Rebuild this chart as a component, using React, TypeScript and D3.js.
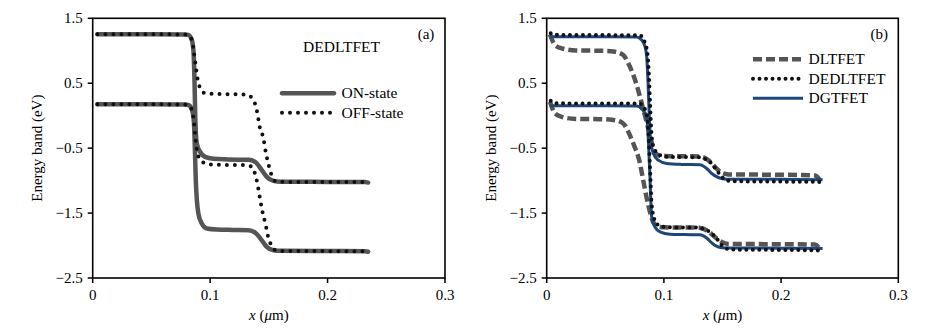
import React from "react";
import * as d3 from "d3";

type Pt = [number, number];

// ---------- Data ----------
const xTicks = [0, 0.1, 0.2, 0.3];
const yTicks = [1.5, 0.5, -0.5, -1.5, -2.5];

// Panel (a): DEDLTFET ON / OFF states
const onCB: Pt[] = [[0.004,1.253],[0.04,1.253],[0.078,1.252],[0.0815,1.245],[0.0844,1.165],[0.0858,1.0],[0.0866,0.6],[0.0872,0.1],[0.0878,-0.25],[0.0887,-0.43],[0.0915,-0.557],[0.0957,-0.634],[0.1028,-0.664],[0.115,-0.674],[0.1326,-0.68],[0.1383,-0.711],[0.144,-0.839],[0.1482,-0.942],[0.1539,-1.004],[0.16,-1.018],[0.2,-1.02],[0.232,-1.022],[0.2345,-1.03]];
const onVB: Pt[] = [[0.004,0.176],[0.04,0.175],[0.078,0.173],[0.0815,0.165],[0.0844,0.097],[0.0862,-0.1],[0.087,-0.5],[0.0878,-1.0],[0.0887,-1.3],[0.09,-1.507],[0.0929,-1.661],[0.0972,-1.738],[0.1057,-1.754],[0.12,-1.76],[0.1326,-1.765],[0.1383,-1.8],[0.144,-1.919],[0.1482,-2.022],[0.1539,-2.073],[0.16,-2.082],[0.2,-2.085],[0.232,-2.087],[0.2345,-2.095]];
const offCB: Pt[] = [[0.004,1.253],[0.04,1.253],[0.078,1.252],[0.0815,1.24],[0.0844,1.17],[0.086,1.0],[0.0875,0.8],[0.089,0.6],[0.0915,0.42],[0.094,0.36],[0.097,0.34],[0.11,0.333],[0.1312,0.325],[0.1369,0.24],[0.1397,0.086],[0.1425,-0.196],[0.1454,-0.35],[0.1468,-0.505],[0.1482,-0.634],[0.151,-0.839],[0.1539,-0.985],[0.157,-1.015],[0.17,-1.02],[0.2,-1.02],[0.234,-1.022]];
const offVB: Pt[] = [[0.004,0.176],[0.04,0.175],[0.078,0.173],[0.0815,0.16],[0.0844,0.09],[0.0862,-0.1],[0.0875,-0.35],[0.089,-0.56],[0.0909,-0.659],[0.094,-0.72],[0.097,-0.747],[0.11,-0.757],[0.131,-0.762],[0.1355,-0.79],[0.1383,-0.9],[0.1403,-1.05],[0.1425,-1.28],[0.144,-1.43],[0.1454,-1.55],[0.1468,-1.64],[0.1482,-1.76],[0.1496,-1.88],[0.151,-1.95],[0.1539,-2.05],[0.157,-2.08],[0.17,-2.085],[0.2,-2.086],[0.234,-2.09]];

// Panel (b): comparison of devices
const dltCB: Pt[] = [[0.0028,1.25],[0.0071,1.088],[0.0128,1.037],[0.025,1.005],[0.045,1.0],[0.0568,0.99],[0.0653,0.934],[0.0696,0.806],[0.0739,0.626],[0.0768,0.471],[0.0796,0.291],[0.0824,0.1],[0.0853,-0.1],[0.0881,-0.3],[0.0909,-0.5],[0.093,-0.58],[0.097,-0.62],[0.11,-0.625],[0.13,-0.628],[0.1378,-0.685],[0.1435,-0.788],[0.1493,-0.881],[0.155,-0.905],[0.2,-0.91],[0.229,-0.92],[0.2335,-1.0]];
const dltVB: Pt[] = [[0.0028,0.214],[0.0071,0.035],[0.0128,-0.017],[0.025,-0.05],[0.045,-0.053],[0.0568,-0.065],[0.0653,-0.12],[0.0696,-0.249],[0.0739,-0.428],[0.0796,-0.736],[0.0824,-1.0],[0.0867,-1.38],[0.0909,-1.64],[0.095,-1.71],[0.1,-1.72],[0.13,-1.725],[0.1378,-1.78],[0.1435,-1.868],[0.1493,-1.945],[0.155,-1.975],[0.2,-1.98],[0.229,-1.985],[0.2335,-2.07]];
const dedCB: Pt[] = [[0.0034,1.27],[0.008,1.245],[0.04,1.242],[0.0794,1.238],[0.0853,1.037],[0.087,0.7],[0.0882,0.2],[0.0893,-0.25],[0.091,-0.48],[0.0967,-0.608],[0.105,-0.635],[0.13,-0.64],[0.1345,-0.66],[0.1393,-0.711],[0.145,-0.839],[0.1493,-0.942],[0.154,-1.0],[0.16,-1.01],[0.2,-1.015],[0.232,-1.02],[0.235,-1.045]];
const dedVB: Pt[] = [[0.0034,0.23],[0.008,0.19],[0.04,0.189],[0.0794,0.185],[0.085,0.05],[0.0872,-0.4],[0.0885,-0.95],[0.0895,-1.35],[0.092,-1.6],[0.0967,-1.7],[0.105,-1.72],[0.13,-1.725],[0.1345,-1.75],[0.1393,-1.79],[0.145,-1.892],[0.1493,-1.995],[0.154,-2.05],[0.16,-2.062],[0.2,-2.068],[0.232,-2.075],[0.235,-2.09]];
const dgCB: Pt[] = [[0.003,1.216],[0.04,1.216],[0.0768,1.212],[0.081,1.165],[0.0839,1.062],[0.0853,0.908],[0.0865,0.5],[0.0875,0.0],[0.0885,-0.35],[0.091,-0.582],[0.0952,-0.685],[0.1024,-0.736],[0.115,-0.75],[0.1308,-0.755],[0.1365,-0.813],[0.1408,-0.89],[0.1464,-0.952],[0.1536,-0.978],[0.2,-0.98],[0.2354,-0.985]];
const dgVB: Pt[] = [[0.003,0.152],[0.04,0.152],[0.0768,0.148],[0.081,0.105],[0.0853,-0.017],[0.0868,-0.4],[0.088,-0.9],[0.0888,-1.3],[0.0896,-1.559],[0.0924,-1.714],[0.0967,-1.79],[0.1052,-1.826],[0.118,-1.831],[0.1308,-1.835],[0.1365,-1.883],[0.1408,-1.96],[0.1464,-2.022],[0.1536,-2.037],[0.2,-2.04],[0.2354,-2.047]];

const legendA = ["ON-state", "OFF-state"];
const legendB = ["DLTFET", "DEDLTFET", "DGTFET"];

// ---------- Styles ----------
const FONT = "'Liberation Serif', 'Times New Roman', serif";
const GRAY = "#555555";
const BLUE = "#1f4679";

const styleOn = { stroke: GRAY, width: 4.5, dash: "none", cap: "round" as const };
const styleOff = { stroke: "#111", width: 4, dash: "0 8", cap: "round" as const };
const styleDlt = { stroke: GRAY, width: 4.5, dash: "9 4", cap: "butt" as const };
const styleDed = { stroke: "#111", width: 4, dash: "0 6.5", cap: "round" as const };
const styleDg = { stroke: BLUE, width: 3, dash: "none", cap: "butt" as const };

const fmt = (v: number) => (v === 0 ? "0" : d3.format(".1f")(v).replace("-", "\u2212"));

type Series = { data: Pt[]; style: typeof styleOn };

function Panel({ x0, x1, series, label, ylabX }: { x0: number; x1: number; series: Series[]; label: string; ylabX: number }) {
  const top = 18.3, bottom = 278;
  const xs = d3.scaleLinear().domain([0, 0.3]).range([x0, x1]);
  const ys = d3.scaleLinear().domain([-2.5, 1.5]).range([bottom, top]);
  const line = d3.line<Pt>().x(d => xs(d[0])).y(d => ys(d[1])).curve(d3.curveMonotoneX);
  return (
    <g>
      {series.map((s, i) => (
        <path key={i} d={line(s.data) || ""} fill="none" stroke={s.style.stroke} strokeWidth={s.style.width}
          strokeDasharray={s.style.dash} strokeLinecap={s.style.cap} strokeLinejoin="round" />
      ))}
      <rect x={x0} y={top} width={x1 - x0} height={bottom - top} fill="none" stroke="#000" strokeWidth={1.6} />
      {yTicks.map(t => (
        <g key={t}>
          <line x1={x0 - 5} x2={x0} y1={ys(t)} y2={ys(t)} stroke="#000" strokeWidth={1.5} />
          <text x={x0 - 10} y={ys(t) + 5} textAnchor="end" fontFamily={FONT} fontSize={15}>{fmt(t)}</text>
        </g>
      ))}
      {xTicks.map(t => (
        <g key={t}>
          <line x1={xs(t)} x2={xs(t)} y1={bottom} y2={bottom + 5} stroke="#000" strokeWidth={1.5} />
          <text x={xs(t)} y={bottom + 22} textAnchor="middle" fontFamily={FONT} fontSize={15}>{fmt(t)}</text>
        </g>
      ))}
      <text x={(x0 + x1) / 2} y={320} textAnchor="middle" fontFamily={FONT} fontSize={15}>
        <tspan fontStyle="italic">x</tspan> (<tspan fontStyle="italic">μ</tspan>m)
      </text>
      <text transform={`translate(${ylabX},${(top + bottom) / 2}) rotate(-90)`} textAnchor="middle" fontFamily={FONT} fontSize={15}>
        Energy band (eV)
      </text>
      <text x={x1 - 19} y={39} textAnchor="middle" fontFamily={FONT} fontSize={15}>{label}</text>
    </g>
  );
}

export default function App() {
  const seriesA: Series[] = [
    { data: onCB, style: styleOn },
    { data: onVB, style: styleOn },
    { data: offCB, style: styleOff },
    { data: offVB, style: styleOff },
  ];
  const seriesB: Series[] = [
    { data: dltCB, style: styleDlt },
    { data: dltVB, style: styleDlt },
    { data: dgCB, style: styleDg },
    { data: dgVB, style: styleDg },
    { data: dedCB, style: styleDed },
    { data: dedVB, style: styleDed },
  ];
  const legStylesA = [styleOn, styleOff];
  const legStylesB = [styleDlt, styleDed, styleDg];
  return (
    <svg width={939} height={329} style={{ position: "absolute", left: 0, top: 0, background: "#fff" }}>
      <rect width={939} height={329} fill="#fff" />
      <Panel x0={92.7} x1={445} series={seriesA} label="(a)" ylabX={42} />
      <Panel x0={546.7} x1={898.3} series={seriesB} label="(b)" ylabX={495.5} />
      {/* panel (a) annotations */}
      <text x={341.5} y={52} textAnchor="middle" fontFamily={FONT} fontSize={15.5}>DEDLTFET</text>
      {legendA.map((name, i) => {
        const y = 93.3 + i * 19.4;
        const s = legStylesA[i];
        return (
          <g key={name}>
            <line x1={282} x2={334} y1={y} y2={y} stroke={s.stroke} strokeWidth={s.width} strokeDasharray={s.dash} strokeLinecap={s.cap} />
            <text x={341.5} y={y + 5} fontFamily={FONT} fontSize={15.5}>{name}</text>
          </g>
        );
      })}
      {legendB.map((name, i) => {
        const y = 59.3 + i * 19.5;
        const s = legStylesB[i];
        return (
          <g key={name}>
            <line x1={753} x2={803} y1={y} y2={y} stroke={s.stroke} strokeWidth={s.width} strokeDasharray={s.dash} strokeLinecap={s.cap} />
            <text x={808.5} y={y + 5} fontFamily={FONT} fontSize={15.5}>{name}</text>
          </g>
        );
      })}
    </svg>
  );
}
